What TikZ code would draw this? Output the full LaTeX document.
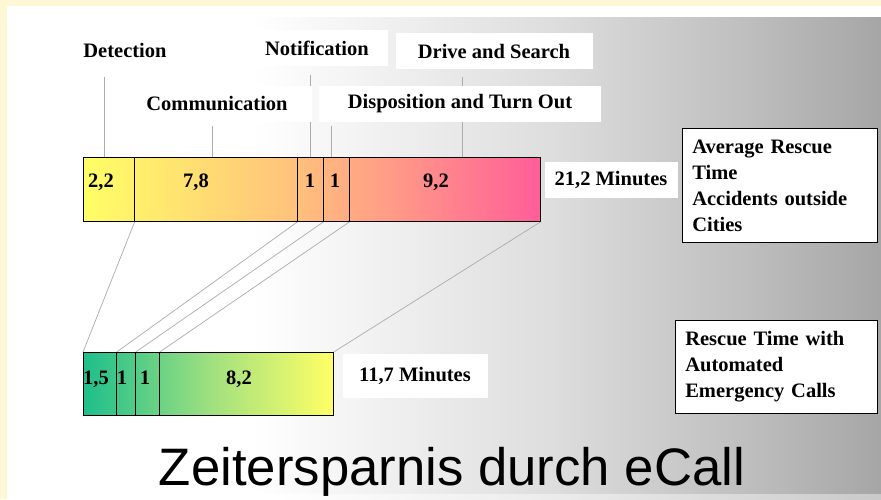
\documentclass[tikz,border=0pt]{standalone}
\usepackage{fontspec}
\setmainfont{Liberation Serif}
\newfontfamily\titlefont{Liberation Sans}
\usetikzlibrary{calc}
\definecolor{cream}{HTML}{FFF7D6}
\definecolor{ybar}{HTML}{FFFF66}
\definecolor{obar}{HTML}{FFC27C}
\definecolor{pbar}{HTML}{FF5E98}
\definecolor{gbar}{HTML}{1EBE8C}
\definecolor{lbar}{HTML}{A6E27E}
\pgfdeclarehorizontalshading{slidefade}{100bp}{color(0bp)=(white); color(39bp)=(white); color(56bp)=(black!13); color(67bp)=(black!25); color(75bp)=(black!35); color(100bp)=(black!35)}
\pgfdeclarehorizontalshading{oldfade}{100bp}{color(0bp)=(ybar); color(25bp)=(ybar); color(48bp)=(obar); color(75bp)=(pbar); color(100bp)=(pbar)}
\pgfdeclarehorizontalshading{newfade}{100bp}{color(0bp)=(gbar); color(25bp)=(gbar); color(52bp)=(lbar); color(75bp)=(ybar); color(100bp)=(ybar)}
\pgfdeclarelayer{bg}
\pgfdeclarelayer{wires}
\pgfsetlayers{bg,wires,main}

\begin{document}
\begin{tikzpicture}[x=0.03cm, y=-0.03cm,
    every node/.style={font=\fontsize{17.5}{22.2}\selectfont\bfseries},
    tag/.style={fill=white, inner xsep=2pt, inner ysep=0pt, minimum height=31pt},
    seg/.style={draw, line width=0.6pt, anchor=north west, minimum height={64*0.03cm}, inner sep=0pt},
    wire/.style={draw=gray!65, line width=0.6pt},
    infobox/.style={draw, fill=white, line width=0.6pt, anchor=north west, align=left, inner xsep=8.5pt, inner ysep=9.5pt}]
	\useasboundingbox (0,0) rectangle (881,499);

	% slide background
	\begin{pgfonlayer}{bg}
		\fill[cream] (0,0) rectangle (881,499);
		\fill[white] (7,6) rectangle (881,499);
		\shade[shading=slidefade] (7,17) rectangle (881,493);
		\shade[shading=slidefade, opacity=0.6] (45,493) rectangle (881,499);
	\end{pgfonlayer}

	% phase labels
	\node[tag, minimum width={119*0.03cm}] (detect) at (125,50) {Detection};
	\node[tag, minimum width={141*0.03cm}] (notify) at (317,48) {Notification};
	\node[tag, minimum width={197*0.03cm}] (drive) at (494,51) {Drive and Search};
	\node[tag, minimum width={190*0.03cm}] (commun) at (217,104) {Communication};
	\node[tag, minimum width={282*0.03cm}] (dispo) at (460,104) {Disposition and Turn Out};

	% old rescue time
	\shade[shading=oldfade] (83,157) rectangle (540,221);
	\node[seg, minimum width={51*0.03cm}] (tdet) at (83,157) {};
	\node[seg, minimum width={163*0.03cm}] (tcom) at (134,157) {};
	\node[seg, minimum width={26*0.03cm}] (tnot) at (297,157) {};
	\node[seg, minimum width={26*0.03cm}] (tdis) at (323,157) {};
	\node[seg, minimum width={191*0.03cm}] (tdrv) at (349,157) {};
	\node[anchor=base] (vdet) at (101,187) {2,2};
	\node[anchor=base] (vcom) at (196,187) {7,8};
	\node[anchor=base] (vnot) at (310,187) {1};
	\node[anchor=base] (vdis) at (335,187) {1};
	\node[anchor=base] (vdrv) at (436,187) {9,2};

	% new rescue time
	\shade[shading=newfade] (83,352) rectangle (333,415);
	\node[seg, minimum width={33*0.03cm}, minimum height={63*0.03cm}] (bdet) at (83,352) {};
	\node[seg, minimum width={19*0.03cm}, minimum height={63*0.03cm}] (bnot) at (116,352) {};
	\node[seg, minimum width={24*0.03cm}, minimum height={63*0.03cm}] (bdis) at (135,352) {};
	\node[seg, minimum width={174*0.03cm}, minimum height={63*0.03cm}] (bdrv) at (159,352) {};
	\node[anchor=base] (wdet) at (96,384) {1,5};
	\node[anchor=base] (wnot) at (122,384) {1};
	\node[anchor=base] (wdis) at (145,384) {1};
	\node[anchor=base] (wdrv) at (239,384) {8,2};

	\node[tag, minimum width={133*0.03cm}] (oldtime) at (611,180) {21,2 Minutes};
	\node[tag, minimum width={145*0.03cm}, minimum height=38pt] (newtime) at (415,376) {11,7 Minutes};

	\node[infobox, text width={175*0.03cm}] (oldbox) at (682,128) {Average Rescue\\Time\\Accidents outside\\Cities};
	\node[infobox, text width={182*0.03cm}] (newbox) at (675,320) {Rescue Time with\\Automated\\Emergency Calls};

	% pointers and links
	\coordinate (detect-hit) at (104,157);
	\coordinate (commun-hit) at (212,157);
	\coordinate (notify-hit) at (310,157);
	\coordinate (dispo-hit) at (331,157);
	\coordinate (drive-hit) at (462,157);
	\begin{pgfonlayer}{wires}
		\draw[wire] (detect-hit |- detect.south) ++(0,9) -- (detect-hit);
		\draw[wire] (notify-hit |- notify.south) ++(0,9) -- (notify-hit);
		\draw[wire] (drive-hit |- drive.south) ++(0,8) -- (drive-hit);
		\draw[wire] (commun-hit |- commun.south) ++(0,4) -- (commun-hit);
		\draw[wire] (dispo-hit |- dispo.south) ++(0,4) -- (dispo-hit);
		\draw[wire] (tdet.south east) -- (bdet.north west);
		\draw[wire] (tcom.south east) -- (bdet.north east);
		\draw[wire] (tnot.south east) -- (bnot.north east);
		\draw[wire] (tdis.south east) -- (bdis.north east);
		\draw[wire] (tdrv.south east) -- (bdrv.north east);
	\end{pgfonlayer}

	\node[font=\titlefont\fontsize{45}{54}\selectfont, anchor=base] (title) at (452,485) {Zeitersparnis durch eCall};
\end{tikzpicture}
\end{document}
